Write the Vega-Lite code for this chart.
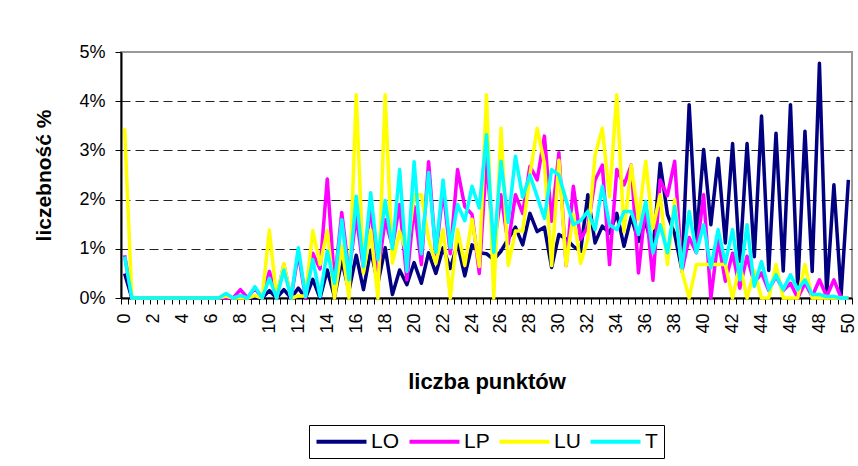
{
"$schema": "https://vega.github.io/schema/vega-lite/v6.json",
"width": 731, "height": 246,
"autosize": {"type": "none"},
"padding": {"left": 121, "top": 52, "right": 6, "bottom": 168},
"background": "white",
"config": {"view": {"stroke": "#999999", "strokeWidth": 2}, "font": "Liberation Sans"},
"data": {"values": [
{"x":0,"s":"LO","v":0.5},{"x":0.5,"s":"LO","v":0},{"x":1,"s":"LO","v":0},{"x":1.5,"s":"LO","v":0},{"x":2,"s":"LO","v":0},{"x":2.5,"s":"LO","v":0},{"x":3,"s":"LO","v":0},{"x":3.5,"s":"LO","v":0},{"x":4,"s":"LO","v":0},{"x":4.5,"s":"LO","v":0},
{"x":5,"s":"LO","v":0},{"x":5.5,"s":"LO","v":0},{"x":6,"s":"LO","v":0},{"x":6.5,"s":"LO","v":0},{"x":7,"s":"LO","v":0},{"x":7.5,"s":"LO","v":0},{"x":8,"s":"LO","v":0},{"x":8.5,"s":"LO","v":0},{"x":9,"s":"LO","v":0},{"x":9.5,"s":"LO","v":0},
{"x":10,"s":"LO","v":0.15},{"x":10.5,"s":"LO","v":0},{"x":11,"s":"LO","v":0.17},{"x":11.5,"s":"LO","v":0},{"x":12,"s":"LO","v":0.2},{"x":12.5,"s":"LO","v":0},{"x":13,"s":"LO","v":0.38},{"x":13.5,"s":"LO","v":0},{"x":14,"s":"LO","v":0.57},{"x":14.5,"s":"LO","v":0.02},
{"x":15,"s":"LO","v":0.75},{"x":15.5,"s":"LO","v":0.15},{"x":16,"s":"LO","v":0.87},{"x":16.5,"s":"LO","v":0.17},{"x":17,"s":"LO","v":0.97},{"x":17.5,"s":"LO","v":0.3},{"x":18,"s":"LO","v":1.02},{"x":18.5,"s":"LO","v":0.07},{"x":19,"s":"LO","v":0.57},{"x":19.5,"s":"LO","v":0.27},
{"x":20,"s":"LO","v":0.72},{"x":20.5,"s":"LO","v":0.3},{"x":21,"s":"LO","v":0.92},{"x":21.5,"s":"LO","v":0.5},{"x":22,"s":"LO","v":1.02},{"x":22.5,"s":"LO","v":0.6},{"x":23,"s":"LO","v":1.1},{"x":23.5,"s":"LO","v":0.45},{"x":24,"s":"LO","v":1.08},{"x":24.5,"s":"LO","v":0.92},
{"x":25,"s":"LO","v":0.9},{"x":25.5,"s":"LO","v":0.78},{"x":26,"s":"LO","v":0.95},{"x":26.5,"s":"LO","v":1.2},{"x":27,"s":"LO","v":1.44},{"x":27.5,"s":"LO","v":1.08},{"x":28,"s":"LO","v":1.72},{"x":28.5,"s":"LO","v":1.35},{"x":29,"s":"LO","v":1.44},{"x":29.5,"s":"LO","v":0.62},
{"x":30,"s":"LO","v":1.29},{"x":30.5,"s":"LO","v":1.2},{"x":31,"s":"LO","v":1.05},{"x":31.5,"s":"LO","v":0.95},{"x":32,"s":"LO","v":2.1},{"x":32.5,"s":"LO","v":1.12},{"x":33,"s":"LO","v":1.46},{"x":33.5,"s":"LO","v":1.32},{"x":34,"s":"LO","v":1.72},{"x":34.5,"s":"LO","v":1.05},
{"x":35,"s":"LO","v":1.65},{"x":35.5,"s":"LO","v":1.15},{"x":36,"s":"LO","v":1.55},{"x":36.5,"s":"LO","v":0.95},{"x":37,"s":"LO","v":2.74},{"x":37.5,"s":"LO","v":1.7},{"x":38,"s":"LO","v":1.3},{"x":38.5,"s":"LO","v":0.57},{"x":39,"s":"LO","v":3.93},{"x":39.5,"s":"LO","v":1.2},
{"x":40,"s":"LO","v":3.02},{"x":40.5,"s":"LO","v":1.49},{"x":41,"s":"LO","v":2.84},{"x":41.5,"s":"LO","v":1.12},{"x":42,"s":"LO","v":3.14},{"x":42.5,"s":"LO","v":0.72},{"x":43,"s":"LO","v":3.14},{"x":43.5,"s":"LO","v":0.84},{"x":44,"s":"LO","v":3.7},{"x":44.5,"s":"LO","v":0.56},
{"x":45,"s":"LO","v":3.35},{"x":45.5,"s":"LO","v":0.55},{"x":46,"s":"LO","v":3.93},{"x":46.5,"s":"LO","v":0.2},{"x":47,"s":"LO","v":3.39},{"x":47.5,"s":"LO","v":0.54},{"x":48,"s":"LO","v":4.77},{"x":48.5,"s":"LO","v":0.07},{"x":49,"s":"LO","v":2.3},{"x":49.5,"s":"LO","v":0.07},
{"x":50,"s":"LO","v":2.4},
{"x":0,"s":"LP","v":0.87},{"x":0.5,"s":"LP","v":0},{"x":1,"s":"LP","v":0},{"x":1.5,"s":"LP","v":0},{"x":2,"s":"LP","v":0},{"x":2.5,"s":"LP","v":0},{"x":3,"s":"LP","v":0},{"x":3.5,"s":"LP","v":0},{"x":4,"s":"LP","v":0},{"x":4.5,"s":"LP","v":0},
{"x":5,"s":"LP","v":0},{"x":5.5,"s":"LP","v":0},{"x":6,"s":"LP","v":0},{"x":6.5,"s":"LP","v":0},{"x":7,"s":"LP","v":0},{"x":7.5,"s":"LP","v":0},{"x":8,"s":"LP","v":0.17},{"x":8.5,"s":"LP","v":0},{"x":9,"s":"LP","v":0.2},{"x":9.5,"s":"LP","v":0},
{"x":10,"s":"LP","v":0.54},{"x":10.5,"s":"LP","v":0},{"x":11,"s":"LP","v":0.68},{"x":11.5,"s":"LP","v":0},{"x":12,"s":"LP","v":0.91},{"x":12.5,"s":"LP","v":0},{"x":13,"s":"LP","v":0.91},{"x":13.5,"s":"LP","v":0.59},{"x":14,"s":"LP","v":2.42},{"x":14.5,"s":"LP","v":0.3},
{"x":15,"s":"LP","v":1.74},{"x":15.5,"s":"LP","v":0.5},{"x":16,"s":"LP","v":1.66},{"x":16.5,"s":"LP","v":0.6},{"x":17,"s":"LP","v":1.86},{"x":17.5,"s":"LP","v":0.5},{"x":18,"s":"LP","v":1.59},{"x":18.5,"s":"LP","v":1.05},{"x":19,"s":"LP","v":1.9},{"x":19.5,"s":"LP","v":0.37},
{"x":20,"s":"LP","v":1.86},{"x":20.5,"s":"LP","v":0.68},{"x":21,"s":"LP","v":2.77},{"x":21.5,"s":"LP","v":0.86},{"x":22,"s":"LP","v":2.2},{"x":22.5,"s":"LP","v":0.9},{"x":23,"s":"LP","v":2.61},{"x":23.5,"s":"LP","v":1.86},{"x":24,"s":"LP","v":1.7},{"x":24.5,"s":"LP","v":0.5},
{"x":25,"s":"LP","v":2.84},{"x":25.5,"s":"LP","v":1.0},{"x":26,"s":"LP","v":2.1},{"x":26.5,"s":"LP","v":1.1},{"x":27,"s":"LP","v":2.1},{"x":27.5,"s":"LP","v":1.72},{"x":28,"s":"LP","v":2.68},{"x":28.5,"s":"LP","v":2.4},{"x":29,"s":"LP","v":3.29},{"x":29.5,"s":"LP","v":1.56},
{"x":30,"s":"LP","v":2.95},{"x":30.5,"s":"LP","v":0.66},{"x":31,"s":"LP","v":2.27},{"x":31.5,"s":"LP","v":1.19},{"x":32,"s":"LP","v":1.45},{"x":32.5,"s":"LP","v":2.4},{"x":33,"s":"LP","v":2.7},{"x":33.5,"s":"LP","v":0.68},{"x":34,"s":"LP","v":2.61},{"x":34.5,"s":"LP","v":2.3},
{"x":35,"s":"LP","v":2.7},{"x":35.5,"s":"LP","v":0.51},{"x":36,"s":"LP","v":1.9},{"x":36.5,"s":"LP","v":0.36},{"x":37,"s":"LP","v":2.4},{"x":37.5,"s":"LP","v":2.08},{"x":38,"s":"LP","v":2.78},{"x":38.5,"s":"LP","v":0.54},{"x":39,"s":"LP","v":1.23},{"x":39.5,"s":"LP","v":0.92},
{"x":40,"s":"LP","v":2.1},{"x":40.5,"s":"LP","v":0},{"x":41,"s":"LP","v":1.18},{"x":41.5,"s":"LP","v":0.34},{"x":42,"s":"LP","v":0.91},{"x":42.5,"s":"LP","v":0.2},{"x":43,"s":"LP","v":0.85},{"x":43.5,"s":"LP","v":0.3},{"x":44,"s":"LP","v":0.51},{"x":44.5,"s":"LP","v":0.15},
{"x":45,"s":"LP","v":0.45},{"x":45.5,"s":"LP","v":0.15},{"x":46,"s":"LP","v":0.3},{"x":46.5,"s":"LP","v":0},{"x":47,"s":"LP","v":0.3},{"x":47.5,"s":"LP","v":0.03},{"x":48,"s":"LP","v":0.37},{"x":48.5,"s":"LP","v":0.03},{"x":49,"s":"LP","v":0.37},{"x":49.5,"s":"LP","v":0},
{"x":50,"s":"LP","v":0},
{"x":0,"s":"LU","v":3.45},{"x":0.5,"s":"LU","v":0},{"x":1,"s":"LU","v":0},{"x":1.5,"s":"LU","v":0},{"x":2,"s":"LU","v":0},{"x":2.5,"s":"LU","v":0},{"x":3,"s":"LU","v":0},{"x":3.5,"s":"LU","v":0},{"x":4,"s":"LU","v":0},{"x":4.5,"s":"LU","v":0},
{"x":5,"s":"LU","v":0},{"x":5.5,"s":"LU","v":0},{"x":6,"s":"LU","v":0},{"x":6.5,"s":"LU","v":0},{"x":7,"s":"LU","v":0.04},{"x":7.5,"s":"LU","v":0},{"x":8,"s":"LU","v":0},{"x":8.5,"s":"LU","v":0},{"x":9,"s":"LU","v":0.05},{"x":9.5,"s":"LU","v":0},
{"x":10,"s":"LU","v":1.38},{"x":10.5,"s":"LU","v":0},{"x":11,"s":"LU","v":0.7},{"x":11.5,"s":"LU","v":0},{"x":12,"s":"LU","v":0.04},{"x":12.5,"s":"LU","v":0.04},{"x":13,"s":"LU","v":1.37},{"x":13.5,"s":"LU","v":0.68},{"x":14,"s":"LU","v":1.37},{"x":14.5,"s":"LU","v":0},
{"x":15,"s":"LU","v":1.05},{"x":15.5,"s":"LU","v":0},{"x":16,"s":"LU","v":4.13},{"x":16.5,"s":"LU","v":0.51},{"x":17,"s":"LU","v":1.38},{"x":17.5,"s":"LU","v":0},{"x":18,"s":"LU","v":4.13},{"x":18.5,"s":"LU","v":0.71},{"x":19,"s":"LU","v":1.35},{"x":19.5,"s":"LU","v":0.9},
{"x":20,"s":"LU","v":2.1},{"x":20.5,"s":"LU","v":2.1},{"x":21,"s":"LU","v":1.2},{"x":21.5,"s":"LU","v":0.7},{"x":22,"s":"LU","v":1.39},{"x":22.5,"s":"LU","v":0},{"x":23,"s":"LU","v":1.39},{"x":23.5,"s":"LU","v":0.66},{"x":24,"s":"LU","v":1.6},{"x":24.5,"s":"LU","v":0.64},
{"x":25,"s":"LU","v":4.13},{"x":25.5,"s":"LU","v":0},{"x":26,"s":"LU","v":3.45},{"x":26.5,"s":"LU","v":0.66},{"x":27,"s":"LU","v":1.36},{"x":27.5,"s":"LU","v":1.36},{"x":28,"s":"LU","v":2.5},{"x":28.5,"s":"LU","v":3.45},{"x":29,"s":"LU","v":2.74},{"x":29.5,"s":"LU","v":0.66},
{"x":30,"s":"LU","v":2.8},{"x":30.5,"s":"LU","v":0.66},{"x":31,"s":"LU","v":1.7},{"x":31.5,"s":"LU","v":0.7},{"x":32,"s":"LU","v":1.2},{"x":32.5,"s":"LU","v":2.9},{"x":33,"s":"LU","v":3.45},{"x":33.5,"s":"LU","v":2.06},{"x":34,"s":"LU","v":4.13},{"x":34.5,"s":"LU","v":1.35},
{"x":35,"s":"LU","v":2.7},{"x":35.5,"s":"LU","v":1.6},{"x":36,"s":"LU","v":2.78},{"x":36.5,"s":"LU","v":1.42},{"x":37,"s":"LU","v":2.1},{"x":37.5,"s":"LU","v":0.68},{"x":38,"s":"LU","v":2.0},{"x":38.5,"s":"LU","v":0.55},{"x":39,"s":"LU","v":0},{"x":39.5,"s":"LU","v":0.68},
{"x":40,"s":"LU","v":0.68},{"x":40.5,"s":"LU","v":0.68},{"x":41,"s":"LU","v":0.68},{"x":41.5,"s":"LU","v":0.68},{"x":42,"s":"LU","v":0},{"x":42.5,"s":"LU","v":0.68},{"x":43,"s":"LU","v":0},{"x":43.5,"s":"LU","v":0.55},{"x":44,"s":"LU","v":0},{"x":44.5,"s":"LU","v":0},
{"x":45,"s":"LU","v":0.68},{"x":45.5,"s":"LU","v":0},{"x":46,"s":"LU","v":0},{"x":46.5,"s":"LU","v":0},{"x":47,"s":"LU","v":0.68},{"x":47.5,"s":"LU","v":0},{"x":48,"s":"LU","v":0},{"x":48.5,"s":"LU","v":0},{"x":49,"s":"LU","v":0},{"x":49.5,"s":"LU","v":0},
{"x":50,"s":"LU","v":0},
{"x":0,"s":"T","v":0.84},{"x":0.5,"s":"T","v":0},{"x":1,"s":"T","v":0},{"x":1.5,"s":"T","v":0},{"x":2,"s":"T","v":0},{"x":2.5,"s":"T","v":0},{"x":3,"s":"T","v":0},{"x":3.5,"s":"T","v":0},{"x":4,"s":"T","v":0},{"x":4.5,"s":"T","v":0},
{"x":5,"s":"T","v":0},{"x":5.5,"s":"T","v":0},{"x":6,"s":"T","v":0},{"x":6.5,"s":"T","v":0},{"x":7,"s":"T","v":0.09},{"x":7.5,"s":"T","v":0},{"x":8,"s":"T","v":0.05},{"x":8.5,"s":"T","v":0},{"x":9,"s":"T","v":0.23},{"x":9.5,"s":"T","v":0},
{"x":10,"s":"T","v":0.4},{"x":10.5,"s":"T","v":0},{"x":11,"s":"T","v":0.57},{"x":11.5,"s":"T","v":0},{"x":12,"s":"T","v":1.02},{"x":12.5,"s":"T","v":0.03},{"x":13,"s":"T","v":0.78},{"x":13.5,"s":"T","v":0.03},{"x":14,"s":"T","v":0.95},{"x":14.5,"s":"T","v":0.3},
{"x":15,"s":"T","v":1.59},{"x":15.5,"s":"T","v":0.37},{"x":16,"s":"T","v":2.07},{"x":16.5,"s":"T","v":0.64},{"x":17,"s":"T","v":2.14},{"x":17.5,"s":"T","v":0.78},{"x":18,"s":"T","v":1.98},{"x":18.5,"s":"T","v":1.0},{"x":19,"s":"T","v":2.61},{"x":19.5,"s":"T","v":0.54},
{"x":20,"s":"T","v":2.77},{"x":20.5,"s":"T","v":0.9},{"x":21,"s":"T","v":2.55},{"x":21.5,"s":"T","v":0.93},{"x":22,"s":"T","v":2.4},{"x":22.5,"s":"T","v":1.02},{"x":23,"s":"T","v":1.9},{"x":23.5,"s":"T","v":1.57},{"x":24,"s":"T","v":2.27},{"x":24.5,"s":"T","v":1.83},
{"x":25,"s":"T","v":3.32},{"x":25.5,"s":"T","v":0.93},{"x":26,"s":"T","v":2.78},{"x":26.5,"s":"T","v":1.54},{"x":27,"s":"T","v":2.88},{"x":27.5,"s":"T","v":2.05},{"x":28,"s":"T","v":2.5},{"x":28.5,"s":"T","v":2.06},{"x":29,"s":"T","v":1.62},{"x":29.5,"s":"T","v":2.61},
{"x":30,"s":"T","v":2.5},{"x":30.5,"s":"T","v":1.99},{"x":31,"s":"T","v":1.49},{"x":31.5,"s":"T","v":1.57},{"x":32,"s":"T","v":1.76},{"x":32.5,"s":"T","v":1.39},{"x":33,"s":"T","v":2.27},{"x":33.5,"s":"T","v":1.49},{"x":34,"s":"T","v":1.39},{"x":34.5,"s":"T","v":1.76},
{"x":35,"s":"T","v":1.76},{"x":35.5,"s":"T","v":1.29},{"x":36,"s":"T","v":1.96},{"x":36.5,"s":"T","v":0.92},{"x":37,"s":"T","v":1.49},{"x":37.5,"s":"T","v":0.92},{"x":38,"s":"T","v":1.86},{"x":38.5,"s":"T","v":0.61},{"x":39,"s":"T","v":1.76},{"x":39.5,"s":"T","v":0.92},
{"x":40,"s":"T","v":1.49},{"x":40.5,"s":"T","v":0.61},{"x":41,"s":"T","v":1.39},{"x":41.5,"s":"T","v":0.71},{"x":42,"s":"T","v":1.39},{"x":42.5,"s":"T","v":0.37},{"x":43,"s":"T","v":1.49},{"x":43.5,"s":"T","v":0.24},{"x":44,"s":"T","v":0.74},{"x":44.5,"s":"T","v":0.17},
{"x":45,"s":"T","v":0.47},{"x":45.5,"s":"T","v":0.17},{"x":46,"s":"T","v":0.47},{"x":46.5,"s":"T","v":0.17},{"x":47,"s":"T","v":0.37},{"x":47.5,"s":"T","v":0.07},{"x":48,"s":"T","v":0.07},{"x":48.5,"s":"T","v":0.03},{"x":49,"s":"T","v":0.03},{"x":49.5,"s":"T","v":0},
{"x":50,"s":"T","v":0}
]},
"mark": {"type": "line", "strokeWidth": 3.5, "strokeJoin": "round"},
"encoding": {
  "x": {"field": "x", "type": "ordinal", "sort": "ascending", "bandPosition": 0.5,
    "scale": {"type": "band", "paddingInner": 0, "paddingOuter": 0},
    "axis": {"title": "liczba punktów", "tickBand": "extent", "labelExpr": "datum.value % 2 === 0 ? datum.label : ''",
      "labelAngle": -90, "labelAlign": "right", "labelBaseline": "middle", "labelOverlap": false, "labelFontSize": 18, "labelFont": "Liberation Sans",
      "labelColor": "black", "labelPadding": 9, "tickSize": 6, "tickColor": "black", "domainColor": "black", "domainWidth": 2,
      "grid": false, "titleFont": "Liberation Sans", "titleFontSize": 22, "titleFontWeight": "bold", "titleColor": "black", "titlePadding": 38}},
  "y": {"field": "v", "type": "quantitative", "scale": {"domain": [0, 5], "nice": false},
    "axis": {"title": "liczebność %", "values": [0, 1, 2, 3, 4, 5], "labelExpr": "datum.value + '%'", "labelFontSize": 18, "labelFont": "Liberation Sans",
      "labelColor": "black", "labelPadding": 10, "tickSize": 6, "tickColor": "black", "domainColor": "black", "domainWidth": 2,
      "grid": true, "gridColor": "#222222", "gridDash": [9, 5], "gridWidth": 1,
      "gridOpacity": {"condition": {"test": "datum.value <= 0 || datum.value >= 5", "value": 0}, "value": 1},
      "titleFont": "Liberation Sans", "titleFontSize": 21, "titleFontWeight": "bold", "titleColor": "black", "titlePadding": 24}},
  "color": {"field": "s", "type": "nominal",
    "scale": {"domain": ["LO", "LP", "LU", "T"], "range": ["#000080", "#FF00FF", "#FFFF00", "#00FFFF"]},
    "legend": {"orient": "none", "legendX": 188, "legendY": 373, "direction": "horizontal", "title": null,
      "symbolType": "M-4,0H4", "symbolSize": 156.25, "symbolStrokeWidth": 4, "symbolOffset": 16,
      "labelFontSize": 21, "labelFont": "Liberation Sans", "labelColor": "black", "labelOffset": 19, "columnPadding": 1,
      "strokeColor": "black", "padding": 6}}
}
}
